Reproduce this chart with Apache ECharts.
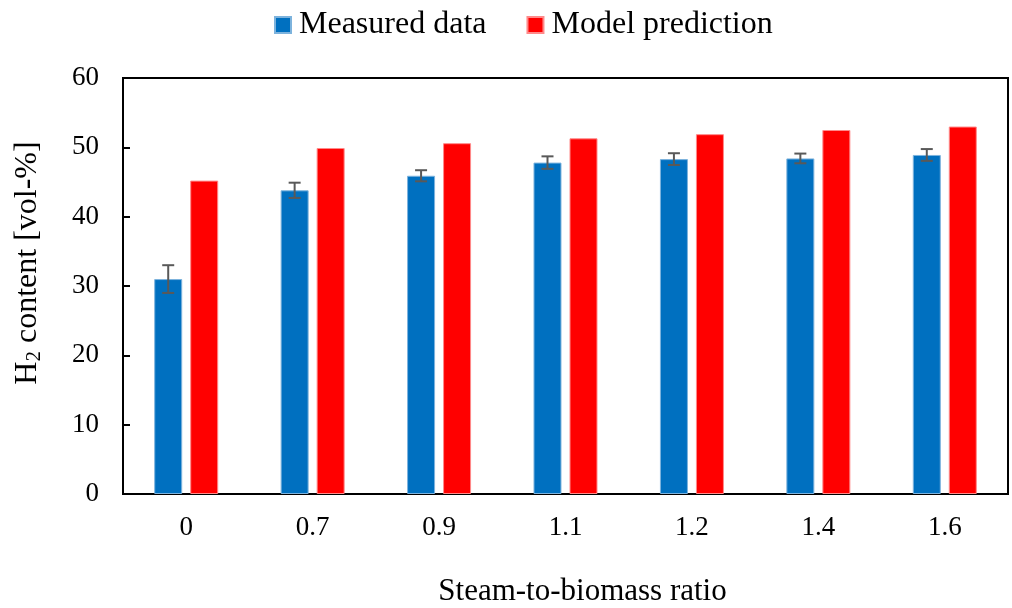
<!DOCTYPE html>
<html>
<head>
<meta charset="utf-8">
<script src="https://cdn.jsdelivr.net/npm/echarts@6/dist/echarts.min.js"></script>
<style>html,body{margin:0;padding:0;background:#fff;overflow:hidden;}#c{width:1012px;height:608px;}</style>
</head>
<body>
<div id="c"></div>
<script>
var categories = ['0', '0.7', '0.9', '1.1', '1.2', '1.4', '1.6'];
var measured = [31.0, 43.8, 45.9, 47.8, 48.3, 48.4, 48.9];
var measuredErr = [2.0, 1.1, 0.8, 0.9, 0.85, 0.7, 0.85];
var predicted = [45.2, 49.9, 50.6, 51.3, 51.9, 52.5, 53.0];
var yTicks = [0, 10, 20, 30, 40, 50, 60];

var FONT = '"Liberation Serif", "Times New Roman", serif';
var BAR_W = 28, GAP_PX = 8;
var chart = echarts.init(document.getElementById('c'));

var errData = measured.map(function (v, i) { return [i, v - measuredErr[i], v + measuredErr[i]]; });

chart.setOption({
  animation: false,
  backgroundColor: '#fff',
  textStyle: { fontFamily: FONT },
  legend: {
    left: 269, top: 4,
    itemWidth: 16, itemHeight: 16, itemGap: 40,
    icon: 'rect',
    textStyle: { fontFamily: FONT, fontSize: 32, color: '#000', padding: [0, 0, 0, 3] },
    data: ['Measured data', 'Model prediction']
  },
  grid: { left: 123, width: 885, top: 78, height: 416, outerBoundsMode: 'none', containLabel: false, show: true, borderColor: '#000', borderWidth: 2, backgroundColor: 'transparent' },
  xAxis: {
    type: 'category', data: categories, boundaryGap: true,
    name: 'Steam-to-biomass ratio', nameLocation: 'middle', nameGap: 82,
    nameTextStyle: { fontFamily: FONT, fontSize: 31, color: '#000', padding: [0, 0, 0, 34] },
    axisLine: { lineStyle: { color: '#000', width: 2 } },
    axisTick: { inside: true, length: 7, lineStyle: { color: '#000', width: 2 } },
    axisLabel: { fontFamily: FONT, fontSize: 27, color: '#000', margin: 20 },
    splitLine: { show: false }
  },
  yAxis: {
    type: 'value', min: yTicks[0], max: yTicks[yTicks.length - 1], interval: 10,
    name: '{n|H}{s|2}{n| content [vol-%]}', nameLocation: 'middle', nameGap: 78, nameRotate: 90,
    nameTextStyle: {
      padding: [0, 0, 0, 46],
      rich: {
        n: { fontFamily: FONT, fontSize: 32, color: '#000' },
        s: { fontFamily: FONT, fontSize: 21, color: '#000', verticalAlign: 'bottom', padding: [14, 0, 0, 0] }
      }
    },
    axisLine: { show: true, lineStyle: { color: '#000', width: 2 } },
    axisTick: { show: true, inside: true, length: 7, lineStyle: { color: '#000', width: 2 } },
    axisLabel: { fontFamily: FONT, fontSize: 27, color: '#000', margin: 24 },
    splitLine: { show: false }
  },
  series: [
    {
      name: 'Measured data', type: 'bar', data: measured,
      barWidth: BAR_W, barGap: (GAP_PX / BAR_W * 100).toFixed(1) + '%',
      itemStyle: { color: '#0070C0', borderColor: '#7DB3DD', borderWidth: 1 }
    },
    {
      name: 'Model prediction', type: 'bar', data: predicted,
      barWidth: BAR_W,
      itemStyle: { color: '#FF0000', borderColor: '#FF8A8A', borderWidth: 1 }
    },
    {
      type: 'custom', name: 'err', data: errData, z: 10,
      renderItem: function (params, api) {
        var i = api.value(0);
        var lo = api.coord([i, api.value(1)]);
        var hi = api.coord([i, api.value(2)]);
        var x = lo[0] - (BAR_W + GAP_PX) / 2;
        var cap = 6;
        var st = { stroke: '#595959', lineWidth: 2 };
        return {
          type: 'group',
          children: [
            { type: 'line', shape: { x1: x, y1: lo[1], x2: x, y2: hi[1] }, style: st },
            { type: 'line', shape: { x1: x - cap, y1: lo[1], x2: x + cap, y2: lo[1] }, style: st },
            { type: 'line', shape: { x1: x - cap, y1: hi[1], x2: x + cap, y2: hi[1] }, style: st }
          ]
        };
      }
    }
  ]
});
</script>
</body>
</html>
